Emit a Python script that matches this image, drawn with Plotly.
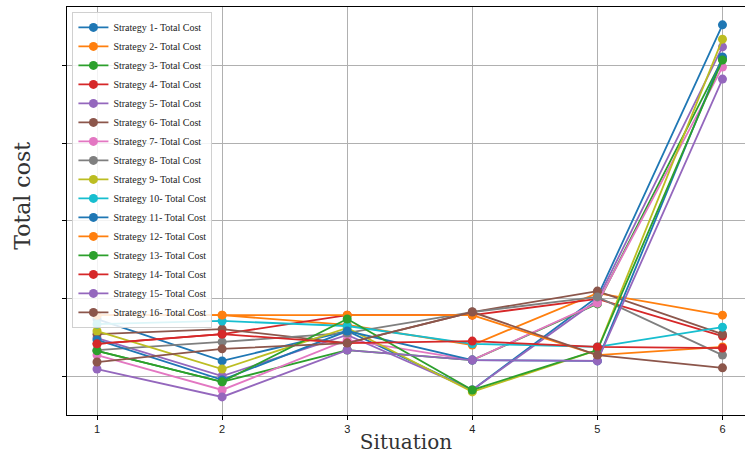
import plotly.graph_objects as go

situations = [1, 2, 3, 4, 5, 6]
strategy_names = [f"Strategy {i}- Total Cost" for i in range(1, 17)]

s1 = [34.7, 23.9, 31.6, 16.4, 40.4, 110.6]
s2 = [35.7, 35.7, 33.2, 28.0, 41.4, 35.7]
s3 = [26.5, 18.5, 26.7, 24.1, 38.6, 101.8]
s4 = [28.3, 30.8, 35.7, 35.7, 39.9, 30.3]
s5 = [29.8, 20.0, 30.6, 16.4, 39.6, 104.9]
s6 = [30.8, 32.1, 28.5, 36.5, 41.9, 30.8]
s7 = [25.4, 16.4, 29.3, 24.1, 38.8, 99.7]
s8 = [26.7, 28.8, 31.1, 36.5, 40.4, 25.4]
s9 = [31.6, 21.8, 32.4, 15.9, 26.7, 106.9]
s10 = [33.4, 34.2, 32.9, 28.3, 27.5, 32.6]
s11 = [29.3, 19.0, 31.6, 24.1, 23.9, 102.3]
s12 = [35.7, 35.7, 35.7, 35.7, 25.4, 27.5]
s13 = [26.5, 18.5, 34.7, 16.4, 26.7, 101.5]
s14 = [28.3, 30.8, 28.5, 29.0, 27.5, 27.2]
s15 = [21.8, 14.6, 26.7, 24.1, 23.9, 96.6]
s16 = [23.6, 27.0, 28.5, 36.5, 25.4, 22.1]

series = [s1, s2, s3, s4, s5, s6, s7, s8, s9, s10, s11, s12, s13, s14, s15, s16]
y_ticks = [20, 40, 60, 80, 100]

colors = ["#1f77b4", "#ff7f0e", "#2ca02c", "#d62728", "#9467bd",
          "#8c564b", "#e377c2", "#7f7f7f", "#bcbd22", "#17becf"]

fig = go.Figure()
for i, (name, vals) in enumerate(zip(strategy_names, series)):
    c = colors[i % 10]
    fig.add_trace(go.Scatter(
        x=situations, y=vals, name=name, mode="lines+markers",
        line=dict(color=c, width=1.8),
        marker=dict(color=c, size=9),
    ))

fig.update_layout(
    width=745, height=457,
    margin=dict(l=67, r=0, t=7, b=42),
    paper_bgcolor="white", plot_bgcolor="white",
    showlegend=True,
    legend=dict(
        x=0.008, y=0.988, xanchor="left", yanchor="top",
        bgcolor="rgba(255,255,255,0.85)", bordercolor="#d0d0d0", borderwidth=1,
        font=dict(family="Liberation Serif", size=10, color="#222"),
        itemwidth=30, tracegroupgap=0,
    ),
    xaxis=dict(
        range=[0.76, 6.18], tickvals=situations, ticktext=[str(v) for v in situations],
        showgrid=True, gridcolor="#b0b0b0", gridwidth=1,
        showline=True, linecolor="black", linewidth=1.2, mirror=True,
        ticks="outside", ticklen=4, tickcolor="black",
        tickfont=dict(family="Liberation Sans", size=11, color="#222"),
        title=dict(text="Situation", font=dict(family="DejaVu Serif", size=20, color="#333"), standoff=0),
        zeroline=False, automargin=False,
    ),
    yaxis=dict(
        range=[9.94, 115.2], tickvals=y_ticks, ticktext=["" for _ in y_ticks],
        showgrid=True, gridcolor="#b0b0b0", gridwidth=1,
        showline=True, linecolor="black", linewidth=1.2, mirror=True,
        ticks="outside", ticklen=4, tickcolor="black",
        zeroline=False, automargin=False,
    ),
    annotations=[dict(
        text="Total cost", textangle=-90, showarrow=False,
        xref="paper", yref="paper", x=-0.065, y=0.537,
        xanchor="center", yanchor="middle",
        font=dict(family="DejaVu Serif", size=22, color="#333"),
    )],
)

fig.write_html(
    "out.html",
    config={"displayModeBar": False},
    post_script="document.body.style.margin='0';document.body.style.overflow='hidden';",
)
